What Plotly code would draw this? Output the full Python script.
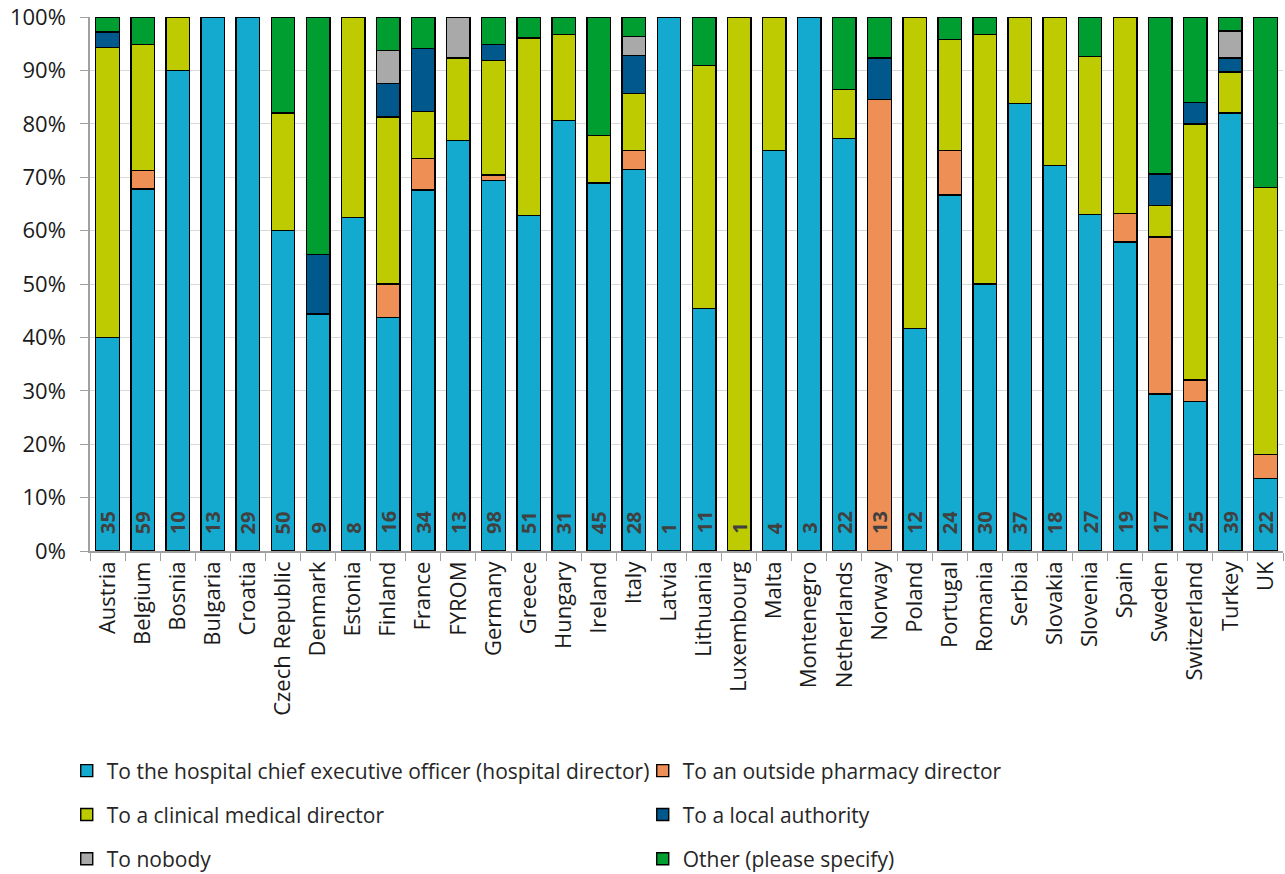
import plotly.graph_objects as go

countries = ["Austria", "Belgium", "Bosnia", "Bulgaria", "Croatia", "Czech Republic", "Denmark",
             "Estonia", "Finland", "France", "FYROM", "Germany", "Greece", "Hungary", "Ireland",
             "Italy", "Latvia", "Lithuania", "Luxembourg", "Malta", "Montenegro", "Netherlands",
             "Norway", "Poland", "Portugal", "Romania", "Serbia", "Slovakia", "Slovenia", "Spain",
             "Sweden", "Switzerland", "Turkey", "UK"]

n_resp = [35, 59, 10, 13, 29, 50, 9, 8, 16, 34, 13, 98, 51, 31, 45, 28, 1, 11, 1, 4, 3, 22,
          13, 12, 24, 30, 37, 18, 27, 19, 17, 25, 39, 22]

ceo = [40.0, 67.8, 90.0, 100, 100, 60.0, 44.4, 62.5, 43.75, 67.6, 76.9, 69.4, 62.8, 80.6, 68.9,
       71.4, 100, 45.4, 0, 75.0, 100, 77.3, 0, 41.7, 66.7, 50.0, 83.8, 72.2, 63.0, 57.9, 29.4,
       28.0, 82.0, 13.6]
pharmacy = [0, 3.4, 0, 0, 0, 0, 0, 0, 6.25, 5.9, 0, 1.0, 0, 0, 0, 3.6, 0, 0, 0, 0, 0, 0, 84.6,
            0, 8.3, 0, 0, 0, 0, 5.3, 29.4, 4.0, 0, 4.5]
clinical = [54.3, 23.7, 10.0, 0, 0, 22.0, 0, 37.5, 31.25, 8.8, 15.4, 21.4, 33.3, 16.1, 8.9, 10.7,
            0, 45.5, 100, 25.0, 0, 9.1, 0, 58.3, 20.8, 46.7, 16.2, 27.8, 29.6, 36.8, 5.9, 48.0,
            7.7, 50.0]
local_auth = [2.9, 0, 0, 0, 0, 0, 11.1, 0, 6.25, 11.8, 0, 3.1, 0, 0, 0, 7.1, 0, 0, 0, 0, 0, 0,
              7.7, 0, 0, 0, 0, 0, 0, 0, 5.9, 4.0, 2.6, 0]
nobody = [0, 0, 0, 0, 0, 0, 0, 0, 6.25, 0, 7.7, 0, 0, 0, 0, 3.6, 0, 0, 0, 0, 0, 0, 0, 0, 0, 0,
          0, 0, 0, 0, 0, 0, 5.1, 0]
other = [2.8, 5.1, 0, 0, 0, 18.0, 44.5, 0, 6.25, 5.9, 0, 5.1, 3.9, 3.3, 22.2, 3.6, 0, 9.1, 0, 0,
         0, 13.6, 7.7, 0, 4.2, 3.3, 0, 0, 7.4, 0, 29.4, 16.0, 2.6, 31.9]

series_names = ["To the hospital chief executive officer (hospital director)",
                "To an outside pharmacy director",
                "To a clinical medical director",
                "To a local authority",
                "To nobody",
                "Other (please specify)"]
series_values = [ceo, pharmacy, clinical, local_auth, nobody, other]
series_colors = ["#14AACF", "#EE8F56", "#BDCB00", "#00588C", "#A9A9A9", "#009E30"]
series_legends = ["legend", "legend", "legend2", "legend2", "legend3", "legend3"]

fig = go.Figure()
for name, vals, col, lg in zip(series_names, series_values, series_colors, series_legends):
    fig.add_trace(go.Bar(
        x=countries, y=vals, name=name, legend=lg,
        marker=dict(color=col, line=dict(color="#000000", width=1.4)),
        hoverinfo="x+y+name",
    ))

for c, n in zip(countries, n_resp):
    fig.add_annotation(
        x=c, y=0, xref="x", yref="y", text=str(n), showarrow=False,
        textangle=-90, yanchor="bottom", xanchor="center", yshift=15,
        font=dict(family="Open Sans", size=20, color="#404040", weight="bold"),
    )

legend_common = dict(
    orientation="h", xanchor="left", yanchor="middle", x=-0.0195,
    entrywidth=531, entrywidthmode="pixels", traceorder="normal",
    font=dict(family="Open Sans", size=21, color="#262626"),
    bgcolor="rgba(0,0,0,0)", borderwidth=0, itemclick=False,
)

fig.update_layout(
    barmode="stack",
    bargap=0.33,
    width=1285, height=874,
    margin=dict(l=90, r=2, t=17, b=323, autoexpand=False),
    plot_bgcolor="white", paper_bgcolor="white",
    font=dict(family="Open Sans", color="#1a1a1a"),
    legend=dict(**legend_common, y=-0.412),
    legend2=dict(**legend_common, y=-0.494),
    legend3=dict(**legend_common, y=-0.577),
    xaxis=dict(
        tickangle=-90, tickfont=dict(family="Open Sans", size=22, color="#1a1a1a"),
        showline=True, linecolor="#a0a0a0", linewidth=1.5,
        ticks="outside", tickson="boundaries", ticklen=8, tickcolor="#a0a0a0",
        showgrid=False, automargin=False,
    ),
    yaxis=dict(
        range=[0, 100], dtick=10, ticksuffix="%",
        tickfont=dict(family="Open Sans", size=22, color="#1a1a1a"),
        showline=True, linecolor="#a0a0a0", linewidth=1.5,
        ticks="outside", ticklen=8, tickcolor="#a0a0a0", ticklabelstandoff=10,
        ticklabeloverflow="allow",
        showgrid=True, gridcolor="#d9d9d9", gridwidth=1, zeroline=False,
        automargin=False,
    ),
)

fig.write_html("out.html", config={"displayModeBar": False},
               post_script="document.body.style.margin='0';")
